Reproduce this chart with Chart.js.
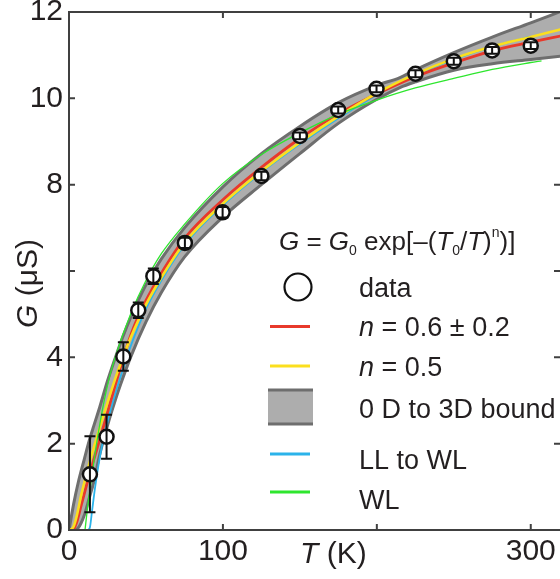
<!DOCTYPE html>
<html>
<head>
<meta charset="utf-8">
<script src="https://cdn.jsdelivr.net/npm/chart.js@4.4.1/dist/chart.umd.min.js"></script>
<style>
  html, body { margin: 0; padding: 0; background: #fff; overflow: hidden; }
  canvas { display: block; }
</style>
</head>
<body>
<canvas id="chart" width="560" height="579"></canvas>
<script>
// measured conductance, T in K, G in uS
const dataT   = [13.6, 24.4, 35.3, 45, 54.8, 75.3, 99.8, 125, 150, 174.9, 199.8, 225.1, 250, 274.9, 300];
const dataG   = [1.29, 2.16, 4.02, 5.09, 5.88, 6.65, 7.36, 8.20, 9.13, 9.73, 10.22, 10.57, 10.86, 11.11, 11.22];
const dataErr = [0.88, 0.51, 0.33, 0.18, 0.18, 0.12, 0.12, 0.10, 0.08, 0.08, 0.08, 0.08, 0.08, 0.08, 0.08];

// n = 0.6 fit (red)
const redT = [2, 3, 5, 8, 12, 16, 20, 25, 30, 35, 40, 45, 50, 60, 75, 100, 125, 150, 175, 200, 225, 250, 275, 300, 320];
const redG = [0, 0.02, 0.18, 0.58, 1.12, 1.62, 2.1, 2.72, 3.35, 3.95, 4.5, 4.95, 5.32, 5.95, 6.75, 7.65, 8.4, 9.07, 9.64, 10.1, 10.5, 10.82, 11.1, 11.3, 11.45];

// n = 0.5 fit (yellow)
const yelT = [1, 3, 5, 8, 12, 16, 20, 25, 30, 35, 40, 50, 60, 75, 100, 125, 150, 175, 200, 225, 250, 275, 300, 320];
const yelG = [0, 0.08, 0.32, 0.82, 1.38, 1.9, 2.38, 2.95, 3.5, 4.0, 4.45, 5.22, 5.85, 6.65, 7.56, 8.31, 8.98, 9.58, 10.12, 10.56, 10.92, 11.2, 11.42, 11.6];

// LL to WL (blue)
const bluT = [12, 13.5, 15, 17, 20, 25, 30, 35, 40, 50, 60, 75, 100, 125, 150, 175, 200, 225, 250, 275, 300];
const bluG = [0, 0.05, 0.45, 1.0, 1.68, 2.5, 3.15, 3.72, 4.25, 5.12, 5.78, 6.6, 7.52, 8.28, 8.94, 9.54, 10.08, 10.53, 10.9, 11.2, 11.43];

// WL (green)
const grnT = [10.4, 12, 15, 20, 25, 30, 40, 50, 60, 75, 100, 125, 150, 175, 200, 225, 250, 275, 300, 307];
const grnG = [0, 0.5, 1.3, 2.45, 3.35, 4.0, 5.0, 5.78, 6.4, 7.08, 8.03, 8.7, 9.2, 9.63, 9.96, 10.24, 10.46, 10.67, 10.83, 10.87];

// 0D to 3D bound (grey band)
const bandT  = [0, 1, 3, 6, 10, 13, 16, 20, 25, 30, 35, 40, 50, 60, 75, 100, 125, 150, 175, 200, 215, 225, 250, 275, 300, 320];
const bandHi = [0, 0.2, 0.6, 1.1, 1.65, 2.05, 2.4, 2.85, 3.45, 3.98, 4.48, 4.92, 5.68, 6.28, 7.0, 7.95, 8.72, 9.35, 9.9, 10.3, 10.48, 10.66, 11.06, 11.42, 11.75, 12.02];
const bandLo = [0, 0, 0, 0.05, 0.35, 0.72, 1.1, 1.75, 2.42, 3.0, 3.52, 4.0, 4.82, 5.5, 6.32, 7.25, 8.0, 8.72, 9.42, 9.98, 10.25, 10.38, 10.65, 10.8, 10.9, 10.98];

const xTicks = [100, 200, 300];
const xTickLabels = [0, 100, 300];
const yTicks = [2, 4, 6, 8, 10, 12];
const yTickLabels = [0, 2, 4, 8, 10, 12];

const FONT = '"Liberation Sans", Arial, Helvetica, sans-serif';
const INK = '#231f20';
const AXIS = '#404040';
const RED = '#e8392b';
const YELLOW = '#fbdf1e';
const BLUE = '#2bb3ea';
const GREEN = '#2ee62e';
const BAND = '#adadad';
const BAND_EDGE = '#6e6e6e';

const pts = (xs, ys) => xs.map((x, i) => ({ x: x, y: ys[i] }));

const curve = (label, xs, ys, color, width) => ({
    label: label,
    data: pts(xs, ys),
    borderColor: color,
    borderWidth: width,
    pointRadius: 0,
    fill: false,
    cubicInterpolationMode: 'monotone'
});

// no extra padding around the plot, the frame sits where the figure has it
const noPad = s => {
    s.paddingLeft = 0;
    s.paddingRight = 0;
    s.paddingTop = 0;
    s.paddingBottom = 0;
};

// axes frame, inward ticks, titles, legend and error bars
const decor = {
    id: 'decor',
    afterDatasetsDraw(chart) {
        const { ctx, scales: { x, y } } = chart;
        ctx.save();
        ctx.strokeStyle = '#111';
        ctx.lineWidth = 2;
        dataT.forEach((t, i) => {
            const px = x.getPixelForValue(t);
            const top = y.getPixelForValue(dataG[i] + dataErr[i]);
            const bot = y.getPixelForValue(dataG[i] - dataErr[i]);
            ctx.beginPath();
            ctx.moveTo(px, top); ctx.lineTo(px, bot);
            ctx.moveTo(px - 5.5, top); ctx.lineTo(px + 5.5, top);
            ctx.moveTo(px - 5.5, bot); ctx.lineTo(px + 5.5, bot);
            ctx.stroke();
        });
        ctx.restore();
    },
    afterDraw(chart) {
        const { ctx, chartArea: a, scales: { x, y } } = chart;
        ctx.save();

        // frame
        ctx.strokeStyle = AXIS;
        ctx.lineWidth = 2;
        ctx.beginPath();
        ctx.moveTo(a.left, a.top); ctx.lineTo(a.right + 2, a.top);
        ctx.moveTo(a.left, a.top - 1); ctx.lineTo(a.left, a.bottom + 1);
        ctx.moveTo(a.left, a.bottom); ctx.lineTo(a.right + 2, a.bottom);
        xTicks.forEach(v => {
            const px = x.getPixelForValue(v);
            ctx.moveTo(px, a.bottom); ctx.lineTo(px, a.bottom - 6);
            ctx.moveTo(px, a.top); ctx.lineTo(px, a.top + 6);
        });
        yTicks.forEach(v => {
            const py = y.getPixelForValue(v);
            ctx.moveTo(a.left, py); ctx.lineTo(a.left + 6, py);
            ctx.moveTo(a.right, py); ctx.lineTo(a.right - 6, py);
        });
        ctx.stroke();

        ctx.fillStyle = INK;
        ctx.textBaseline = 'alphabetic';
        ctx.textAlign = 'left';

        const runs = (parts, x0, base) => {
            let cx = x0;
            parts.forEach(p => {
                ctx.font = p.font;
                ctx.fillText(p.t, cx, base + (p.dy || 0));
                cx += ctx.measureText(p.t).width;
            });
            return cx;
        };
        const it = s => 'italic ' + s + 'px ' + FONT;
        const rm = s => s + 'px ' + FONT;

        // axis titles
        runs([{ t: 'T', font: it(30) }, { t: ' (K)', font: rm(30) }], 300, 563);
        ctx.save();
        ctx.translate(37, 328);
        ctx.rotate(-Math.PI / 2);
        runs([{ t: 'G', font: it(30) }, { t: ' (\u03bcS)', font: rm(30) }], 0, 0);
        ctx.restore();

        // formula
        runs([
            { t: 'G', font: it(26) },
            { t: ' = ', font: rm(26) },
            { t: 'G', font: it(26) },
            { t: '0', font: rm(14), dy: 5 },
            { t: ' exp[\u2013(', font: rm(26) },
            { t: 'T', font: it(26) },
            { t: '0', font: rm(14), dy: 5 },
            { t: '/', font: rm(26) },
            { t: 'T', font: it(26) },
            { t: ')', font: rm(26) },
            { t: 'n', font: rm(14), dy: -13 },
            { t: ')]', font: rm(26) }
        ], 279, 250);

        // legend symbols
        ctx.strokeStyle = '#111';
        ctx.lineWidth = 2.2;
        ctx.beginPath();
        ctx.arc(298, 287, 13.5, 0, Math.PI * 2);
        ctx.stroke();

        const seg = (yy, color) => {
            ctx.strokeStyle = color;
            ctx.lineWidth = 3;
            ctx.beginPath();
            ctx.moveTo(270, yy); ctx.lineTo(310, yy);
            ctx.stroke();
        };
        seg(326.5, RED);
        seg(366, YELLOW);
        seg(454, BLUE);
        seg(492, GREEN);

        ctx.fillStyle = BAND;
        ctx.fillRect(268, 390, 45, 34);
        ctx.strokeStyle = BAND_EDGE;
        ctx.lineWidth = 3;
        ctx.beginPath();
        ctx.moveTo(268, 390); ctx.lineTo(313, 390);
        ctx.moveTo(268, 424); ctx.lineTo(313, 424);
        ctx.stroke();

        // legend text
        ctx.fillStyle = INK;
        const sz = 27, off = 0.358 * sz;
        runs([{ t: 'data', font: rm(sz) }], 359, 287 + off);
        runs([{ t: 'n', font: it(sz) }, { t: ' = 0.6 \u00b1 0.2', font: rm(sz) }], 359, 326.5 + off);
        runs([{ t: 'n', font: it(sz) }, { t: ' = 0.5', font: rm(sz) }], 359, 366.5 + off);
        runs([{ t: '0 D to 3D bound', font: rm(sz) }], 359, 408 + off);
        runs([{ t: 'LL to WL', font: rm(sz) }], 359, 459 + off);
        runs([{ t: 'WL', font: rm(sz) }], 359, 499 + off);

        ctx.restore();
    }
};

const ctx = document.getElementById('chart').getContext('2d');

new Chart(ctx, {
    type: 'line',
    data: {
        datasets: [
            {
                label: 'data',
                data: pts(dataT, dataG),
                showLine: false,
                pointRadius: 7,
                pointBorderWidth: 2.5,
                pointBorderColor: '#111',
                pointBackgroundColor: '#fff'
            },
            curve('WL', grnT, grnG, GREEN, 1.3),
            curve('n = 0.5', yelT, yelG, YELLOW, 2.6),
            curve('n = 0.6', redT, redG, RED, 2.8),
            curve('LL to WL', bluT, bluG, BLUE, 1.8),
            {
                label: 'bound hi',
                data: pts(bandT, bandHi),
                borderColor: BAND_EDGE,
                borderWidth: 3,
                pointRadius: 0,
                fill: false,
                cubicInterpolationMode: 'monotone'
            },
            {
                label: 'bound lo',
                data: pts(bandT, bandLo),
                borderColor: BAND_EDGE,
                borderWidth: 3,
                pointRadius: 0,
                backgroundColor: BAND,
                fill: '-1',
                cubicInterpolationMode: 'monotone'
            }
        ]
    },
    options: {
        responsive: false,
        animation: false,
        devicePixelRatio: 1,
        layout: { autoPadding: false, padding: { top: 12, right: 0, left: 0, bottom: 0 } },
        plugins: {
            legend: { display: false },
            tooltip: { enabled: false }
        },
        scales: {
            x: {
                type: 'linear',
                min: 0,
                max: 319,
                afterFit: s => { s.height = 49; noPad(s); },
                grid: { display: false, drawTicks: false },
                border: { display: false },
                ticks: {
                    stepSize: 100,
                    includeBounds: false,
                    maxRotation: 0,
                    padding: 4,
                    color: INK,
                    font: { family: FONT, size: 30 },
                    callback: v => xTickLabels.includes(v) ? String(v) : ''
                }
            },
            y: {
                type: 'linear',
                min: 0,
                max: 12,
                afterFit: s => { s.width = 69; noPad(s); },
                grid: { display: false, drawTicks: false },
                border: { display: false },
                ticks: {
                    stepSize: 2,
                    padding: 6,
                    color: INK,
                    font: { family: FONT, size: 30 },
                    callback: v => yTickLabels.includes(v) ? String(v) : ''
                }
            }
        }
    },
    plugins: [decor]
});
</script>
</body>
</html>
